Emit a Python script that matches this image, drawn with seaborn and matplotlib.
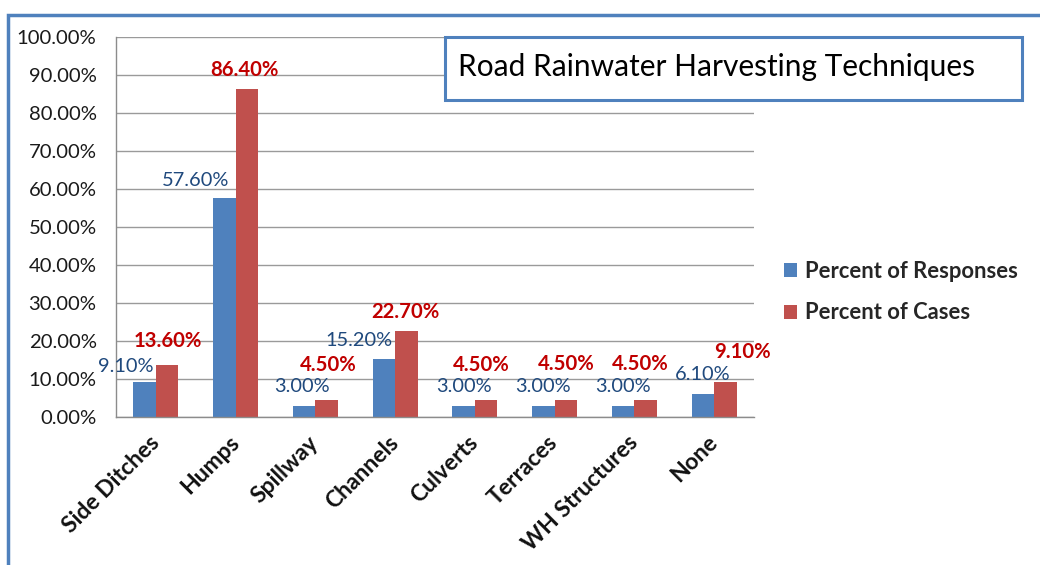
import pandas as pd
import matplotlib
matplotlib.use("Agg")
import matplotlib.pyplot as plt
from matplotlib.patches import Rectangle
from matplotlib.ticker import FixedLocator, FuncFormatter
import seaborn as sns

# values (percent)
categories = ["Side Ditches", "Humps", "Spillway", "Channels",
              "Culverts", "Terraces", "WH Structures", "None"]
pct_responses = [9.1, 57.6, 3.0, 15.2, 3.0, 3.0, 3.0, 6.1]
pct_cases = [13.6, 86.4, 4.5, 22.7, 4.5, 4.5, 4.5, 9.1]
series = ["Percent of Responses", "Percent of Cases"]

df = pd.concat([
    pd.DataFrame({"technique": categories, "series": series[0], "pct": pct_responses}),
    pd.DataFrame({"technique": categories, "series": series[1], "pct": pct_cases}),
])

# label nudges in pixels (Excel labels were dragged by hand)
resp_dx = [-19, -29, -2, -25, 0, 0, 0, 0]
resp_dy = [16, 18, 19, 19, 19, 19, 19, 19]
case_dx = [1, -2, 2, -1, -5, 0, -5, 17]
case_dy = [24, 19, 35, 19, 35, 36, 36, 30]

BLUE, RED = "#4F81BD", "#C0504D"

sns.set_style("white")
plt.rcParams["font.family"] = ["Lato", "DejaVu Sans"]

fig = plt.figure(figsize=(10.4, 5.65), dpi=100)
ax = fig.add_axes([116 / 1040, 1 - 417 / 565, (754 - 116) / 1040, 380 / 565])

sns.barplot(data=df, x="technique", y="pct", hue="series", order=categories,
            hue_order=series, palette=[BLUE, RED], width=0.565, saturation=1,
            edgecolor="none", ax=ax)

ax.set_ylim(0, 100)
ax.set_xlim(-0.5, len(categories) - 0.5)
ax.yaxis.set_major_locator(FixedLocator(range(0, 101, 10)))
ax.yaxis.set_major_formatter(FuncFormatter(lambda v, _: f"{v:.2f}%"))
ax.grid(axis="y", color="#9a9a9a", linewidth=1)
ax.set_axisbelow(True)
ax.set_xlabel("")
ax.set_ylabel("")

for side in ("top", "right"):
    ax.spines[side].set_visible(False)
for side in ("left", "bottom"):
    ax.spines[side].set_color("#8c8c8c")
    ax.spines[side].set_linewidth(1)

ax.tick_params(axis="y", length=5, color="#8c8c8c", pad=9, labelsize=14.6, labelcolor="#1a1a1a")
ax.set_xticks([i - 0.5 for i in range(len(categories) + 1)], minor=True)
ax.tick_params(axis="x", which="minor", length=6, color="#8c8c8c", direction="out")
ax.tick_params(axis="x", which="major", length=0, pad=16)
ax.set_xticks(range(len(categories)))
ax.set_xticklabels(categories, rotation=45, ha="right", va="center",
                   rotation_mode="anchor", fontsize=16.5, fontweight="bold", color="#111111")

resp_bars, case_bars = ax.containers[0], ax.containers[1]
for bar, v, dx, dy in zip(resp_bars, pct_responses, resp_dx, resp_dy):
    ax.annotate(f"{v:.2f}%", (bar.get_x() + bar.get_width() / 2, bar.get_height()),
                xytext=(dx, dy), textcoords="offset pixels", ha="center", va="center",
                fontsize=14.4, color="#1F497D")
for bar, v, dx, dy in zip(case_bars, pct_cases, case_dx, case_dy):
    ax.annotate(f"{v:.2f}%", (bar.get_x() + bar.get_width() / 2, bar.get_height()),
                xytext=(dx, dy), textcoords="offset pixels", ha="center", va="center",
                fontsize=14.6, fontweight="bold", color="#C00000")

handles, labels = ax.get_legend_handles_labels()
ax.legend(handles, labels, loc="center left", bbox_to_anchor=(764 / 1040, 1 - 292 / 565),
          bbox_transform=fig.transFigure, frameon=False, handlelength=0.6,
          handleheight=0.6, handletextpad=0.35, labelspacing=0.95,
          prop={"weight": "bold", "size": 15.8})

# title box
fig.patches.append(Rectangle((445 / 1040, 1 - 100 / 565), 577 / 1040, 63 / 565,
                             transform=fig.transFigure, facecolor="white",
                             edgecolor=BLUE, linewidth=2.2, zorder=5))
fig.text(458 / 1040, 1 - 67 / 565, "Road Rainwater Harvesting Techniques",
         ha="left", va="center", fontsize=21.5, color="black", zorder=6)

# outer chart border (runs off the right and bottom)
fig.patches.append(Rectangle((8 / 1040, -0.1), 1.2, 0.1 + 1 - 15 / 565,
                             transform=fig.transFigure, facecolor="none",
                             edgecolor=BLUE, linewidth=2.5, zorder=0))

fig.savefig("out.png", dpi=100)
plt.close(fig)
